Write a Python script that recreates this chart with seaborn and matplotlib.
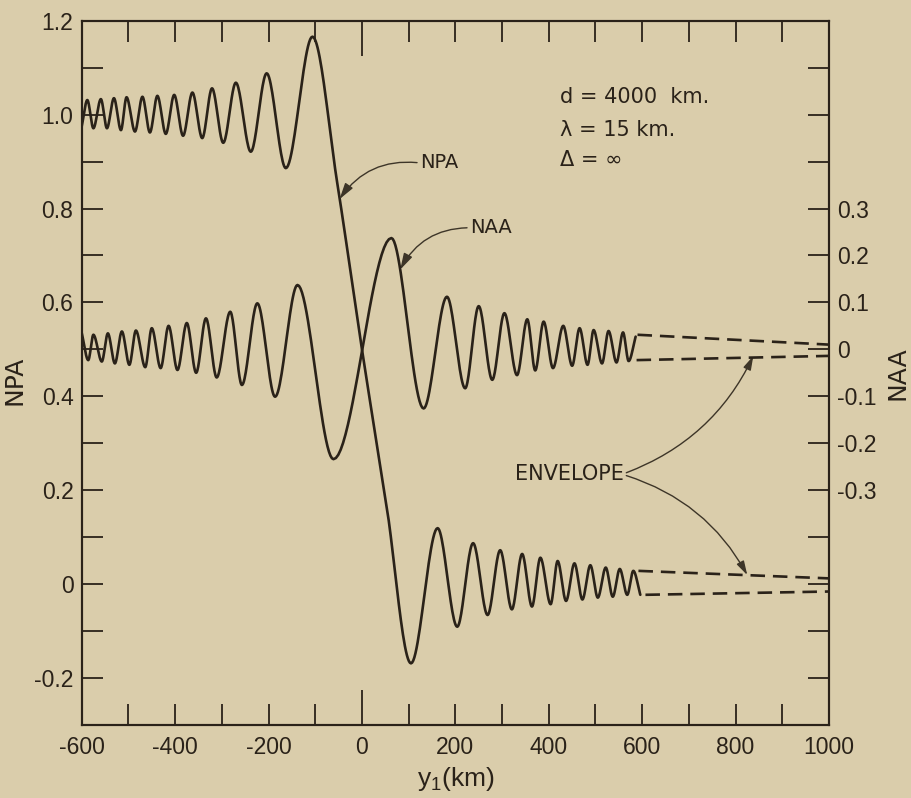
import numpy as np
import pandas as pd
import matplotlib
matplotlib.use("Agg")
import matplotlib.pyplot as plt
import seaborn as sns
from matplotlib import font_manager

# NPA: start point, then alternating peaks / troughs
npa_x = [-600, -588, -575, -559, -546, -531, -516, -504, -486, -470, -454,
         -438, -420, -402, -383, -363, -342, -321, -297, -270, -238, -204,
         -163, -106, -53, 0, 53, 105, 162, 204, 238, 269, 296, 321, 343,
         364, 382, 404, 419, 437, 455, 472, 489, 505, 522, 537, 552, 568,
         581, 596]
npa_y = [0.975, 1.031, 0.971, 1.033, 0.971, 1.035, 0.967, 1.037, 0.964,
         1.038, 0.962, 1.040, 0.959, 1.042, 0.955, 1.047, 0.950, 1.056,
         0.940, 1.068, 0.921, 1.088, 0.886, 1.166, 0.855, 0.5, 0.165, -0.169,
         0.119, -0.091, 0.087, -0.066, 0.072, -0.054, 0.064, -0.048, 0.056,
         -0.043, 0.049, -0.036, 0.044, -0.033, 0.040, -0.029, 0.035, -0.027,
         0.032, -0.023, 0.028, -0.023]

# NAA (right axis)
naa_x = [-600, -586, -575, -557, -544, -529, -514, -498, -484, -464, -450,
         -431, -414, -395, -375, -355, -334, -311, -282, -257, -224, -186,
         -138, -61, 63, 132, 182, 221, 250, 279, 305, 332, 354, 371, 389,
         409, 431, 450, 466, 483, 496, 514, 528, 545, 559, 571, 586]
naa_y = [0.035, -0.023, 0.031, -0.026, 0.034, -0.030, 0.038, -0.033, 0.040,
         -0.038, 0.045, -0.040, 0.050, -0.044, 0.056, -0.050, 0.066, -0.060,
         0.080, -0.076, 0.098, -0.101, 0.137, -0.234, 0.237, -0.126, 0.112,
         -0.083, 0.092, -0.065, 0.077, -0.055, 0.064, -0.045, 0.059, -0.040,
         0.050, -0.035, 0.045, -0.033, 0.041, -0.030, 0.039, -0.028, 0.036,
         -0.025, 0.027]

# dashed envelopes beyond 600 km
npa_env_upper_x, npa_env_upper_y = [592, 1000], [0.028, 0.012]
npa_env_lower_x, npa_env_lower_y = [607, 1000], [-0.023, -0.016]
naa_env_upper_x, naa_env_upper_y = [590, 1000], [0.031, 0.010]
naa_env_lower_x, naa_env_lower_y = [588, 1000], [-0.023, -0.014]

x_ticks = list(range(-600, 1001, 100))
npa_ticks = [round(v, 1) for v in np.arange(-0.3, 1.201, 0.1)]
naa_ticks = [round(v, 1) for v in np.arange(-0.8, 0.701, 0.1)]

ink = "#2a2219"
bg = "#dacdab"


def smooth_through(xk, yk, per_seg=24):
    # monotone cubic (pchip) through the read points, flat at the extrema
    xk = np.asarray(xk, float)
    yk = np.asarray(yk, float)
    h = np.diff(xk)
    delta = np.diff(yk) / h
    d = np.zeros_like(yk)
    for k in range(1, len(xk) - 1):
        if delta[k - 1] * delta[k] > 0:
            w1 = 2 * h[k] + h[k - 1]
            w2 = h[k] + 2 * h[k - 1]
            d[k] = (w1 + w2) / (w1 / delta[k - 1] + w2 / delta[k])
    d[0] = delta[0]
    d[-1] = delta[-1]
    t = np.linspace(0, 1, per_seg, endpoint=False)
    h00 = 2 * t**3 - 3 * t**2 + 1
    h10 = t**3 - 2 * t**2 + t
    h01 = -2 * t**3 + 3 * t**2
    h11 = t**3 - t**2
    xs, ys = [], []
    for k in range(len(h)):
        xs.append(xk[k] + t * h[k])
        ys.append(h00 * yk[k] + h10 * h[k] * d[k] + h01 * yk[k + 1] + h11 * h[k] * d[k + 1])
    xs.append([xk[-1]])
    ys.append([yk[-1]])
    return np.concatenate(xs), np.concatenate(ys)


sns.set_theme(style="ticks")
available = {f.name for f in font_manager.fontManager.ttflist}
tick_font = "Liberation Sans Narrow" if "Liberation Sans Narrow" in available else "Liberation Sans"
tick_size = 18 if tick_font == "Liberation Sans Narrow" else 16.5
plt.rcParams["font.family"] = [tick_font, "DejaVu Sans"]
plt.rcParams["axes.unicode_minus"] = False
plt.rcParams["mathtext.default"] = "regular"

fig = plt.figure(figsize=(9.12, 7.98), dpi=100, facecolor=bg)
ax = fig.add_axes([0.0896, 0.0917, 0.8194, 0.8823])
ax.set_facecolor(bg)
ax2 = ax.twinx()

sx, sy = smooth_through(npa_x, npa_y)
npa_df = pd.DataFrame({"y1": sx, "npa": sy})
sx, sy = smooth_through(naa_x, naa_y)
naa_df = pd.DataFrame({"y1": sx, "naa": sy})

sns.lineplot(data=npa_df, x="y1", y="npa", ax=ax, color=ink, linewidth=1.9,
             estimator=None, sort=False)
sns.lineplot(data=naa_df, x="y1", y="naa", ax=ax2, color=ink, linewidth=1.9,
             estimator=None, sort=False)

dash = (0, (5.5, 3))
for ex, ey in [(npa_env_upper_x, npa_env_upper_y), (npa_env_lower_x, npa_env_lower_y)]:
    sns.lineplot(x=ex, y=ey, ax=ax, color=ink, linewidth=1.9, linestyle=dash,
                 estimator=None, sort=False)
for ex, ey in [(naa_env_upper_x, naa_env_upper_y), (naa_env_lower_x, naa_env_lower_y)]:
    sns.lineplot(x=ex, y=ey, ax=ax2, color=ink, linewidth=1.9, linestyle=dash,
                 estimator=None, sort=False)

ax.set_xlim(-600, 1000)
ax.set_ylim(-0.3, 1.2)
ax2.set_ylim(-0.8, 0.7)

ax.set_xticks(x_ticks)
ax.set_xticklabels([str(v) if v % 200 == 0 else "" for v in x_ticks])
ax.set_yticks(npa_ticks)
ax.set_yticklabels([("0" if v == 0 else f"{v:.1f}") if round(v * 10) % 2 == 0 else ""
                    for v in npa_ticks])
ax2.set_yticks(naa_ticks)
ax2.set_yticklabels([("0" if v == 0 else f"{v:.1f}") if abs(v) <= 0.3 else ""
                     for v in naa_ticks])

ax.tick_params(axis="x", direction="in", length=15, width=1.3, top=True, bottom=True,
               labelsize=tick_size, pad=8, colors=ink)
ax.tick_params(axis="y", direction="in", length=15, width=1.3, left=True, right=False,
               labelsize=tick_size, pad=6, colors=ink)
ax2.tick_params(axis="y", direction="in", length=15, width=1.3, right=True, left=False,
                labelsize=tick_size, pad=6, colors=ink)
for tick in ax.xaxis.get_major_ticks():
    if tick.get_loc() == 0:
        tick.tick1line.set_markersize(25)
        tick.tick2line.set_markersize(25)

for a in (ax, ax2):
    for s in a.spines.values():
        s.set_visible(True)
        s.set_color(ink)
        s.set_linewidth(1.5)

ax.set_xlabel(r"y$_{1}$(km)", fontsize=19, color=ink)
ax.xaxis.set_label_coords(0.5, -0.057)
ax.set_ylabel("NPA", fontsize=18, color=ink, family="DejaVu Sans")
ax.yaxis.set_label_coords(-0.074, 0.49)
ax2.set_ylabel("NAA", fontsize=18, color=ink, family="DejaVu Sans", rotation=90)
ax2.yaxis.set_label_coords(1.076, 0.5)

note_kw = dict(fontsize=15, color=ink, family="DejaVu Sans", va="center", ha="left")
ax.text(425, 1.038, "d = 4000  km.", **note_kw)
ax.text(425, 0.967, "\u03bb = 15 km.", **note_kw)
ax.text(425, 0.903, "\u0394 = \u221e", **note_kw)

arrow_kw = dict(arrowstyle="-|>,head_length=0.7,head_width=0.2", color="#3d3528",
                lw=1.0, shrinkA=0, shrinkB=0)
ax.annotate("NPA", xy=(-48, 0.82), xytext=(125, 0.897), fontsize=14, color=ink,
            family="DejaVu Sans", va="center", ha="left",
            arrowprops=dict(arrow_kw, connectionstyle="arc3,rad=0.3", relpos=(0, 0.5)))
ax.annotate("NAA", xy=(82, 0.67), xytext=(232, 0.759), fontsize=14, color=ink,
            family="DejaVu Sans", va="center", ha="left",
            arrowprops=dict(arrow_kw, connectionstyle="arc3,rad=0.3", relpos=(0, 0.5)))
ax.text(560, 0.234, "ENVELOPE", fontsize=15, color=ink, family="DejaVu Sans",
        va="center", ha="right")
ax.annotate("", xy=(838, 0.486), xytext=(566, 0.237),
            arrowprops=dict(arrow_kw, connectionstyle="arc3,rad=0.2"))
ax.annotate("", xy=(825, 0.019), xytext=(566, 0.231),
            arrowprops=dict(arrow_kw, connectionstyle="arc3,rad=-0.2"))

fig.savefig("out.png", dpi=100, facecolor=bg)
